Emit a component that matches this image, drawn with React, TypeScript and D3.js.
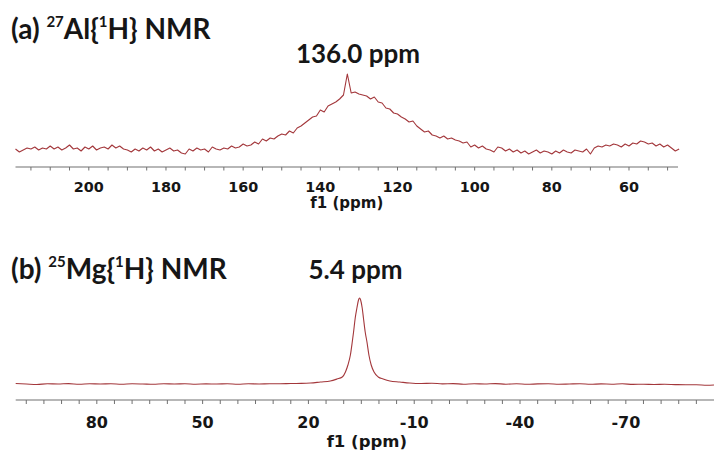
import React from "react";
import * as d3 from "d3";

// ---------- data ----------
// (a) 27Al{1H} spectrum, sampled every 1 ppm from 219 ppm down to 47 ppm (intensity, arbitrary units)
const alStartPpm = 219;
const alStepPpm = 1;
const alIntensity = [
  1, -2, 0, 2, 1, 3, 0, 2, 1, 4, 1, 3, 0, 2, 5, 1, 2, -1, 3, 1,
  4, 0, 2, 3, 1, 5, 2, 4, 1, 0, -2, 1, -1, 2, 0, 3, -1, 1, -2, 0,
  2, -1, 0, -3, -4, 1, -1, 2, 0, 1, -2, 3, 1, 0, 2, 1, 4, 2, 3, 6,
  4, 5, 8, 6, 11, 9, 12, 11, 14, 16, 15, 19, 17, 22, 24, 27, 30, 33, 34, 40,
  38, 44, 46, 48, 51, 55, 76, 57, 58, 56, 55, 54, 51, 53, 48, 47, 42, 41, 37, 36,
  33, 31, 28, 29, 24, 21, 18, 19, 15, 14, 12, 14, 11, 12, 10, 9, 7, 8, 3, 5,
  2, 4, 1, 0, -2, 3, 2, -1, 1, -2, 0, -3, -1, -4, -2, 0, -3, -1, -2, -4,
  -1, -3, 0, -2, -3, 0, -1, -2, 1, -4, 2, 4, 3, 5, 4, 6, 5, 3, 6, 4,
  7, 6, 9, 8, 6, 7, 4, 6, 3, 5, 2, -1, 1,
];

// (b) 25Mg{1H} spectrum
const mgPpm = [
  103, 100, 97, 94, 91, 88, 85, 82, 79, 76, 73, 70, 67, 64, 61, 58, 55, 52, 49, 46,
  43, 40, 37, 34, 31, 28, 25, 22, 19.4, 16.6, 13.8, 11.9, 10.4, 9.5, 8.8, 8.1, 7.57, 7.2, 6.73, 6.25,
  5.8, 5.5, 5.2, 4.75, 4.4, 3.9, 3.4, 2.85, 2.2, 1.4, 0.2, -1.2, -3.1, -5.9, -8.7,
  -12, -15, -18, -21, -24, -27, -30, -33, -36, -39, -42, -45, -48, -51, -54, -57, -60,
  -63, -66, -69, -72, -75, -78, -81, -84, -87, -90, -93, -95,
];
const mgIntensity = [
  0.5, 0, -0.5, 0.3, 0, 0.4, -0.3, 0.2, 0, 0.3, -0.2, 0.2, 0, -0.3, 0.2, 0, 0.3, -0.2, 0.1, 0,
  0.3, -0.2, 0.2, 0, 0.3, 0.2, 0.5, 0.6, 1, 2, 3, 5, 7, 12, 19, 29, 42, 52, 66, 76,
  84, 86, 84, 76, 66, 52, 42, 29, 19, 12, 7, 5, 3, 2, 1,
  0.5, 0.8, 0.1, 0.4, -0.2, 0.3, 0, 0.4, -0.2, 0.2, -0.3, 0.1, 0.3, -0.2, 0, 0.2, -0.3,
  0.1, -0.2, 0.2, -0.4, -0.2, -0.5, -0.3, -0.6, -0.8, -0.7, -1.2, -1,
];

const alTickLabels = [200, 180, 160, 140, 120, 100, 80, 60];
const mgTickLabels = [80, 50, 20, -10, -40, -70];
const alDomain = [219, 47.3];
const mgDomain = [103, -95];

const LINE_COLOR = "#a3373b";
const AXIS_COLOR = "#707070";
const TEXT_COLOR = "#161616";

export default function App() {
  const W = 714;
  const H = 453;

  // top panel scales
  const xA = d3.scaleLinear().domain(alDomain).range([15.5, 678]);
  const yA = d3.scaleLinear().domain([0, 76]).range([150, 74]);
  const alPoints: [number, number][] = alIntensity.map((v, i) => [alStartPpm - i * alStepPpm, v]);
  const lineA = d3
    .line<[number, number]>()
    .x((d) => xA(d[0]))
    .y((d) => yA(d[1]));
  const alMinor = d3.range(50, 216, 5);

  // bottom panel scales
  const xB = d3.scaleLinear().domain(mgDomain).range([15.7, 714]);
  const yB = d3.scaleLinear().domain([0, 86]).range([384, 298]);
  const mgPoints: [number, number][] = mgPpm.map((p, i) => [p, mgIntensity[i]]);
  const lineB = d3
    .line<[number, number]>()
    .x((d) => xB(d[0]))
    .y((d) => yB(d[1]))
    .curve(d3.curveMonotoneX);
  const mgMinor = d3.range(-90, 101, 5);

  const titleFont = "Lato, 'Open Sans', sans-serif";
  const axisFont = "'DejaVu Sans', Verdana, sans-serif";

  return (
    <svg
      width={W}
      height={H}
      viewBox={`0 0 ${W} ${H}`}
      style={{ position: "absolute", left: 0, top: 0, display: "block", background: "#fff" }}
    >
      <rect x={0} y={0} width={W} height={H} fill="#fff" />

      {/* ---- panel (a) ---- */}
      <text x={11} y={39} fontFamily={titleFont} fontWeight="bold" fontSize={28} fill={TEXT_COLOR}>
        {"(a) "}
        <tspan fontSize={15} dy={-12}>27</tspan>
        <tspan dy={12}>{"Al{"}</tspan>
        <tspan fontSize={15} dy={-12}>1</tspan>
        <tspan dy={12}>{"H} NMR"}</tspan>
      </text>
      <text x={358} y={63} textAnchor="middle" fontFamily={titleFont} fontWeight="bold" fontSize={26} fill={TEXT_COLOR}>
        136.0 ppm
      </text>

      <path d={lineA(alPoints) || ""} fill="none" stroke={LINE_COLOR} strokeWidth={1.1} strokeLinejoin="round" />

      <line x1={xA(alDomain[0])} x2={xA(alDomain[1])} y1={167} y2={167} stroke={AXIS_COLOR} strokeWidth={1.2} />
      {alMinor.map((t) => (
        <line key={t} x1={xA(t)} x2={xA(t)} y1={167} y2={170.5} stroke={AXIS_COLOR} strokeWidth={1} />
      ))}
      {alTickLabels.map((t) => (
        <text key={t} x={xA(t)} y={192} textAnchor="middle" fontFamily={axisFont} fontWeight="bold" fontSize={14.4} fill={TEXT_COLOR}>
          {t}
        </text>
      ))}
      <text x={(xA(alDomain[0]) + xA(alDomain[1])) / 2} y={208} textAnchor="middle" fontFamily={axisFont} fontWeight="bold" fontSize={15} fill={TEXT_COLOR}>
        f1 (ppm)
      </text>

      {/* ---- panel (b) ---- */}
      <text x={11} y={279} fontFamily={titleFont} fontWeight="bold" fontSize={28} fill={TEXT_COLOR}>
        {"(b) "}
        <tspan fontSize={15} dy={-12}>25</tspan>
        <tspan dy={12}>{"Mg{"}</tspan>
        <tspan fontSize={15} dy={-12}>1</tspan>
        <tspan dy={12}>{"H} NMR"}</tspan>
      </text>
      <text x={355.5} y={279} textAnchor="middle" fontFamily={titleFont} fontWeight="bold" fontSize={26} fill={TEXT_COLOR}>
        5.4 ppm
      </text>

      <path d={lineB(mgPoints) || ""} fill="none" stroke={LINE_COLOR} strokeWidth={1.1} strokeLinejoin="round" />

      <line x1={xB(mgDomain[0])} x2={xB(mgDomain[1])} y1={400} y2={400} stroke={AXIS_COLOR} strokeWidth={1.2} />
      {mgMinor.map((t) => (
        <line key={t} x1={xB(t)} x2={xB(t)} y1={400} y2={404} stroke={AXIS_COLOR} strokeWidth={1} />
      ))}
      {mgTickLabels.map((t) => (
        <text key={t} x={xB(t)} y={428} textAnchor="middle" fontFamily={axisFont} fontWeight="bold" fontSize={16} fill={TEXT_COLOR}>
          {t}
        </text>
      ))}
      <text x={(xB(mgDomain[0]) + xB(mgDomain[1])) / 2 + 2} y={447} textAnchor="middle" fontFamily={axisFont} fontWeight="bold" fontSize={16.5} fill={TEXT_COLOR}>
        f1 (ppm)
      </text>
    </svg>
  );
}
